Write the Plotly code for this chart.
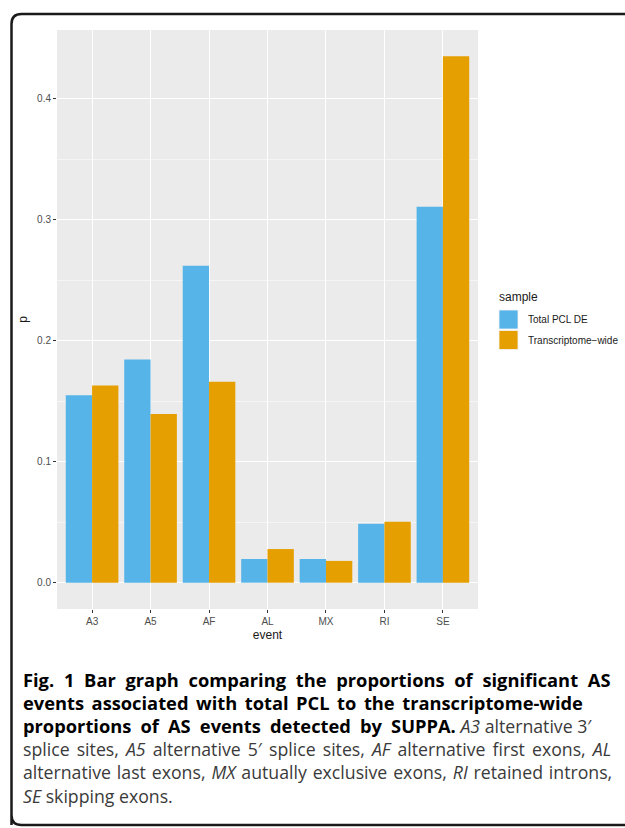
import plotly.graph_objects as go

# ---- data ----
events = ["A3", "A5", "AF", "AL", "MX", "RI", "SE"]
total_pcl_de = [0.155, 0.1845, 0.262, 0.0196, 0.0196, 0.0488, 0.3107]
transcriptome_wide = [0.163, 0.1394, 0.166, 0.0278, 0.018, 0.0504, 0.435]
series_names = ["Total PCL DE", "Transcriptome\u2212wide"]
series_colors = ["#56B4E9", "#E69F00"]
y_ticks = [0.0, 0.1, 0.2, 0.3, 0.4]

W, H = 625, 828
L, R, T, B = 57, 147, 30, 219
PW, PH = W - L - R, H - T - B


def px(x):
    return (x - L) / PW


def py(y):
    return (H - B - y) / PH


fig = go.Figure()
for name, vals, col in zip(series_names, [total_pcl_de, transcriptome_wide], series_colors):
    fig.add_trace(go.Bar(x=events, y=vals, name=name, marker=dict(color=col, line=dict(width=0)),
                         showlegend=False))

ymax = max(max(total_pcl_de), max(transcriptome_wide))
pad = ymax * 0.05

fig.update_layout(
    width=W, height=H,
    margin=dict(l=L, r=R, t=T, b=B, pad=0),
    paper_bgcolor="white",
    plot_bgcolor="#EBEBEB",
    barmode="group", bargap=0.1, bargroupgap=0,
    font=dict(family="Liberation Sans, Arial, sans-serif", color="#4D4D4D"),
)
fig.update_xaxes(
    range=[-0.6, len(events) - 0.4], showgrid=True, gridcolor="white", gridwidth=1.1,
    ticks="outside", ticklen=3, tickcolor="#333333", tickwidth=1,
    tickfont=dict(size=10, color="#4D4D4D"), showline=False, zeroline=False,
    title=dict(text="event", font=dict(size=12, color="#1A1A1A"), standoff=4),
)
fig.update_yaxes(
    range=[-pad, ymax + pad], tickvals=y_ticks, ticktext=[f"{v:.1f}" for v in y_ticks],
    showgrid=True, gridcolor="white", gridwidth=1.1,
    minor=dict(tickvals=[0.05, 0.15, 0.25, 0.35], showgrid=True, gridcolor="#F5F5F5", gridwidth=0.6, ticks=""),
    ticks="outside", ticklen=3, tickcolor="#333333", tickwidth=1,
    tickfont=dict(size=10, color="#4D4D4D"), showline=False, zeroline=False,
    title=dict(text="p", font=dict(size=12, color="#1A1A1A"), standoff=6),
)

shapes = []
# legend keys (manual)
for i, col in enumerate(series_colors):
    y0 = 310 + i * 20.5
    shapes.append(dict(type="rect", xref="paper", yref="paper",
                       x0=px(499), x1=px(518), y0=py(y0), y1=py(y0 + 19),
                       fillcolor=col, line=dict(color="#F2F2F2", width=0.8)))

# outer frame with rounded corners (pixel space)
fx0, fy0, fx1, fy1, r = 11.5, 14, 650, 825, 10
path = (f"M {px(fx0)},{py(fy1)} L {px(fx0)},{py(fy0 + r)} "
        f"Q {px(fx0)},{py(fy0)} {px(fx0 + r)},{py(fy0)} L {px(fx1)},{py(fy0)} "
        f"M {px(fx0)},{py(fy1 - r)} Q {px(fx0)},{py(fy1)} {px(fx0 + r)},{py(fy1)} L {px(fx1)},{py(fy1)}")
shapes.append(dict(type="path", xref="paper", yref="paper", path=path,
                   line=dict(color="#1A1A1A", width=2.5)))
fig.update_layout(shapes=shapes)

ann = []
ann.append(dict(text="sample", x=px(497), y=py(297), xref="paper", yref="paper", xanchor="left",
                yanchor="middle", showarrow=False, font=dict(size=12, color="#1A1A1A")))
for i, name in enumerate(series_names):
    ann.append(dict(text=name, x=px(526), y=py(319.5 + i * 20.5), xref="paper", yref="paper",
                    xanchor="left", yanchor="middle", showarrow=False, font=dict(size=10, color="#1A1A1A")))

bold = "color:#000000;font-size:18.3px"
reg = "color:#3A3A3A;font-weight:normal;font-size:17.7px"
caption_lines = [
    f"<span style='{bold};word-spacing:5.0px'><b>Fig. 1 Bar graph comparing the proportions of significant AS</b></span>",
    f"<span style='{bold};word-spacing:2.8px'><b>events associated with total PCL to the transcriptome-wide</b></span>",
    f"<span style='{bold};word-spacing:4.4px'><b>proportions of AS events detected by SUPPA.</b></span><span style='{reg}'> <i>A3</i> alternative 3\u2032</span>",
    f"<span style='{reg};word-spacing:2.5px'>splice sites, <i>A5</i> alternative 5\u2032 splice sites, <i>AF</i> alternative first exons, <i>AL</i></span>",
    f"<span style='{reg};word-spacing:1.3px'>alternative last exons, <i>MX</i> autually exclusive exons, <i>RI</i> retained introns,</span>",
    f"<span style='{reg}'><i>SE</i> skipping exons.</span>",
]
line_h = 23.1
base = line_h / 1.3
ann.append(dict(text="<br>".join(caption_lines), x=px(21), y=py(680 + 2.5 * line_h),
                xref="paper", yref="paper", xanchor="left", yanchor="middle", align="left",
                showarrow=False, font=dict(family="Open Sans, Noto Sans, sans-serif", size=base, color="#000000")))
fig.update_layout(annotations=ann)

fig.write_html("out.html", config={"displayModeBar": False},
               post_script="document.body.style.margin='0';document.body.style.overflow='hidden';")
